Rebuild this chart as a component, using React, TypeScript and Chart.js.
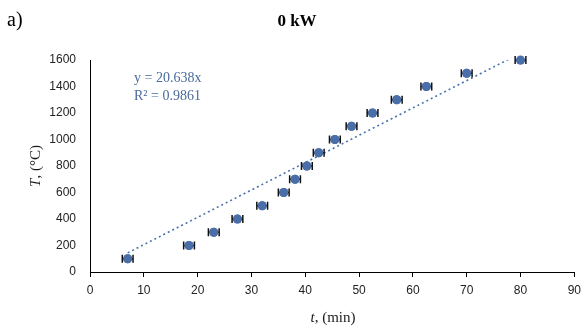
import React, { useEffect, useRef } from "react";
import { Chart, registerables } from "chart.js";

Chart.register(...registerables);

const timeMin = [7, 18.4, 23, 27.4, 32, 36, 38.1, 40.3, 42.5, 45.5, 48.6, 52.5, 57, 62.5, 70, 80];
const tempC = [100, 200, 300, 400, 500, 600, 700, 800, 900, 1000, 1100, 1200, 1300, 1400, 1500, 1600];
const timeErr = [1, 1, 1, 1, 1, 1, 1, 1, 1, 1, 1, 1, 1, 1, 1, 1];
const trendSlope = 20.638;
const trendRange = [7, 80];
const equationLines = ["y = 20.638x", "R\u00b2 = 0.9861"];
const chartTitle = "0 kW";
const panelLabel = "a)";

const SERIF = "'Liberation Serif', 'Times New Roman', serif";
const SANS = "'Liberation Sans', Arial, sans-serif";

const errorBarPlugin = {
  id: "errorBars",
  afterDatasetsDraw(chart: any) {
    const { ctx, scales } = chart;
    const xs = scales.x;
    const ys = scales.y;
    ctx.save();
    ctx.strokeStyle = "#111";
    ctx.lineWidth = 1.5;
    for (let i = 0; i < timeMin.length; i++) {
      const x1 = xs.getPixelForValue(timeMin[i] - timeErr[i]);
      const x2 = xs.getPixelForValue(timeMin[i] + timeErr[i]);
      const y = ys.getPixelForValue(tempC[i]);
      ctx.beginPath();
      ctx.moveTo(x1, y);
      ctx.lineTo(x2, y);
      ctx.moveTo(x1, y - 4);
      ctx.lineTo(x1, y + 4);
      ctx.moveTo(x2, y - 4);
      ctx.lineTo(x2, y + 4);
      ctx.stroke();
    }
    ctx.restore();
    const meta = chart.getDatasetMeta(1);
    ctx.save();
    ctx.fillStyle = "#4a6fa8";
    meta.data.forEach((pt: any) => {
      ctx.beginPath();
      ctx.arc(pt.x, pt.y, 4.5, 0, Math.PI * 2);
      ctx.fill();
    });
    ctx.restore();
  },
};

const textPlugin = {
  id: "texts",
  afterDraw(chart: any) {
    const { ctx } = chart;
    ctx.save();
    ctx.fillStyle = "#000";
    ctx.textBaseline = "middle";
    ctx.font = `20px ${SERIF}`;
    ctx.textAlign = "left";
    ctx.fillText(panelLabel, 7, 21);
    ctx.font = `bold 17px ${SERIF}`;
    ctx.textAlign = "center";
    ctx.fillText(chartTitle, 297, 22);
    ctx.fillStyle = "#4a6a9c";
    ctx.font = `14px ${SERIF}`;
    ctx.textAlign = "left";
    ctx.fillText(equationLines[0], 134, 78);
    ctx.fillText(equationLines[1], 134, 96);
    ctx.fillStyle = "#1a1a1a";
    const xa = "t";
    const xb = ", (min)";
    ctx.font = `italic 15px ${SERIF}`;
    const wa = ctx.measureText(xa).width;
    ctx.font = `15px ${SERIF}`;
    const wb = ctx.measureText(xb).width;
    let sx = 333 - (wa + wb) / 2;
    ctx.textAlign = "left";
    ctx.font = `italic 15px ${SERIF}`;
    ctx.fillText(xa, sx, 318);
    ctx.font = `15px ${SERIF}`;
    ctx.fillText(xb, sx + wa, 318);
    ctx.translate(36, 166);
    ctx.rotate(-Math.PI / 2);
    const ya = "T";
    const yb = ", (\u00b0C)";
    ctx.font = `italic 15px ${SERIF}`;
    const wya = ctx.measureText(ya).width;
    ctx.font = `15px ${SERIF}`;
    const wyb = ctx.measureText(yb).width;
    sx = -(wya + wyb) / 2;
    ctx.font = `italic 15px ${SERIF}`;
    ctx.fillText(ya, sx, 0);
    ctx.font = `15px ${SERIF}`;
    ctx.fillText(yb, sx + wya, 0);
    ctx.restore();
  },
};

export default function App() {
  const ref = useRef<HTMLCanvasElement | null>(null);
  useEffect(() => {
    if (!ref.current) return;
    const pts = timeMin.map((t, i) => ({ x: t, y: tempC[i] }));
    const trend = trendRange.map((t) => ({ x: t, y: trendSlope * t }));
    const chart = new Chart(ref.current, {
      type: "scatter",
      data: {
        datasets: [
          {
            type: "line",
            data: trend,
            borderColor: "#4a72b0",
            borderWidth: 1.6,
            borderDash: [2, 3],
            pointRadius: 0,
            fill: false,
          } as any,
          {
            data: pts,
            backgroundColor: "#4a6fa8",
            borderWidth: 0,
            pointRadius: 4.5,
          },
        ],
      },
      options: {
        animation: false,
        responsive: false,
        maintainAspectRatio: false,
        layout: { padding: { top: 60, right: 10, left: 0, bottom: 0 } },
        plugins: {
          legend: { display: false },
          tooltip: { enabled: false },
          title: { display: false },
        },
        scales: {
          x: {
            type: "linear",
            min: 0,
            max: 90,
            ticks: {
              stepSize: 10,
              color: "#222",
              font: { family: SANS, size: 12 },
              padding: 6,
              callback: (v: any) => String(v),
            },
            grid: { display: true, drawOnChartArea: false, drawTicks: true, tickLength: 5, color: "#000" },
            border: { display: true, color: "#000", width: 1 },
            afterFit(scale: any) {
              scale.height = 57;
            },
          },
          y: {
            type: "linear",
            min: 0,
            max: 1600,
            ticks: {
              stepSize: 200,
              color: "#222",
              font: { family: SANS, size: 12 },
              padding: 14,
              callback: (v: any) => String(v),
            },
            grid: { display: true, drawOnChartArea: false, drawTicks: false, color: "#000" },
            border: { display: true, color: "#000", width: 1 },
            afterFit(scale: any) {
              scale.width = 90;
            },
          },
        },
      },
      plugins: [errorBarPlugin, textPlugin],
    });
    return () => chart.destroy();
  }, []);
  return (
    <div style={{ position: "fixed", left: 0, top: 0, width: 587, height: 329, background: "#fff" }}>
      <canvas ref={ref} width={587} height={329} style={{ width: 587, height: 329 }} />
    </div>
  );
}
